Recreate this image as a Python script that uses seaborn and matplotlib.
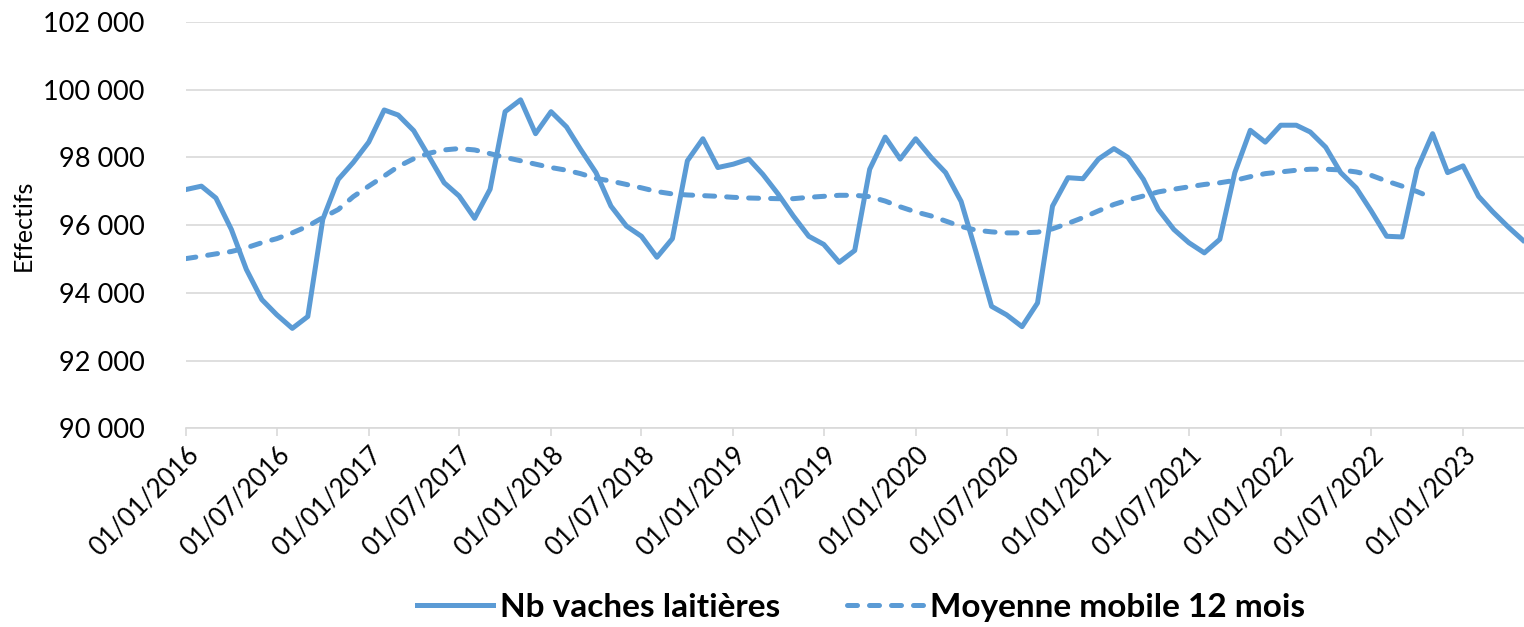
import pandas as pd
import numpy as np
import matplotlib.pyplot as plt
import matplotlib.dates as mdates
import matplotlib.ticker as mticker
import seaborn as sns

# 1. Data (monthly dairy cow counts)
print("Building data...")
dates = pd.date_range('2016-01-01', '2023-05-01', freq='MS')

nb_vaches = [
    97050, 97150, 96800, 95870, 94690, 93800, 93350, 92950, 93300, 96170, 97350, 97850,  # 2016
    98450, 99400, 99250, 98790, 98040, 97250, 96860, 96200, 97060, 99350, 99700, 98700,  # 2017
    99350, 98900, 98240, 97550, 96560, 95970, 95670, 95050, 95600, 97900, 98550, 97700,  # 2018
    97800, 97950, 97500, 96910, 96270, 95670, 95430, 94900, 95250, 97650, 98600, 97950,  # 2019
    98550, 98000, 97550, 96700, 95200, 93600, 93350, 93000, 93700, 96560, 97400, 97370,  # 2020
    97950, 98260, 98000, 97350, 96460, 95870, 95480, 95180, 95580, 97550, 98800, 98450,  # 2021
    98950, 98950, 98750, 98300, 97550, 97100, 96420, 95670, 95650, 97650, 98700, 97550,  # 2022
    97750, 96850, 96400, 95950, 95550,                                                   # 2023
]

moyenne_mobile = [
    95010, 95080, 95150, 95220, 95330, 95480, 95600, 95770, 95970, 96220, 96460, 96840,
    97150, 97450, 97730, 97960, 98120, 98220, 98260, 98220, 98110, 98000, 97900, 97800,
    97700, 97620, 97520, 97380, 97300, 97200, 97100, 96990, 96920, 96890, 96870, 96850,
    96820, 96800, 96790, 96780, 96780, 96820, 96850, 96880, 96880, 96840, 96710, 96540,
    96390, 96270, 96120, 95960, 95850, 95800, 95770, 95770, 95790, 95890, 96050, 96220,
    96420, 96610, 96740, 96860, 96980, 97060, 97130, 97200, 97250, 97320, 97430, 97520,
    97570, 97620, 97650, 97650, 97630, 97570, 97470, 97300, 97150, 96990, 96800,
]
moyenne_mobile = moyenne_mobile + [np.nan] * (len(dates) - len(moyenne_mobile))

data = pd.DataFrame({'Date': dates,
                     'Nb_vaches': nb_vaches,
                     'Moyenne_mobile': moyenne_mobile})

# 2. Plot
plt.rcParams['font.family'] = ['Lato', 'DejaVu Sans']
blue = '#5B9BD5'

fig = plt.figure(figsize=(15.24, 6.27), dpi=100)
ax = fig.add_axes([0.122, 0.317, 0.878, 0.648])

sns.lineplot(data=data, x='Date', y='Nb_vaches', ax=ax, color=blue,
             linewidth=3.6, label='Nb vaches laitières')
sns.lineplot(data=data.dropna(), x='Date', y='Moyenne_mobile', ax=ax, color=blue,
             linewidth=3.6, linestyle=(0, (2, 2.4)), dash_capstyle='round',
             label='Moyenne mobile 12 mois')

ax.set_ylim(90000, 102000)
ax.set_xlim(pd.Timestamp('2016-01-01'), pd.Timestamp('2023-05-03'))
ax.yaxis.set_major_locator(mticker.MultipleLocator(2000))
ax.yaxis.set_major_formatter(mticker.FuncFormatter(lambda v, p: f'{int(v):,}'.replace(',', ' ')))
ax.xaxis.set_major_locator(mdates.MonthLocator(bymonth=[1, 7], bymonthday=1))
ax.xaxis.set_major_formatter(mdates.DateFormatter('%d/%m/%Y'))

ax.grid(axis='y', color='#d9d9d9', linewidth=1.2)
ax.set_axisbelow(True)
for side in ['top', 'right', 'left']:
    ax.spines[side].set_visible(False)
ax.spines['bottom'].set_color('#d9d9d9')
ax.spines['bottom'].set_linewidth(1.2)

ax.tick_params(axis='y', length=0, labelsize=19.5, pad=30)
ax.tick_params(axis='x', length=6, width=1.2, color='#d9d9d9', labelsize=18.5, pad=4)
plt.setp(ax.get_xticklabels(), rotation=45, ha='right', rotation_mode='anchor')

ax.set_xlabel('')
ax.set_ylabel('Effectifs', fontsize=18, labelpad=6)

ax.legend(loc='lower center', bbox_to_anchor=(0.565, -0.04), bbox_transform=fig.transFigure,
          ncol=2, frameon=False, handlelength=2.3, handletextpad=0.2, columnspacing=2.0,
          prop={'size': 24, 'weight': 'bold'})

plt.savefig('out.png', dpi=100)
print("Saved plot to out.png")
